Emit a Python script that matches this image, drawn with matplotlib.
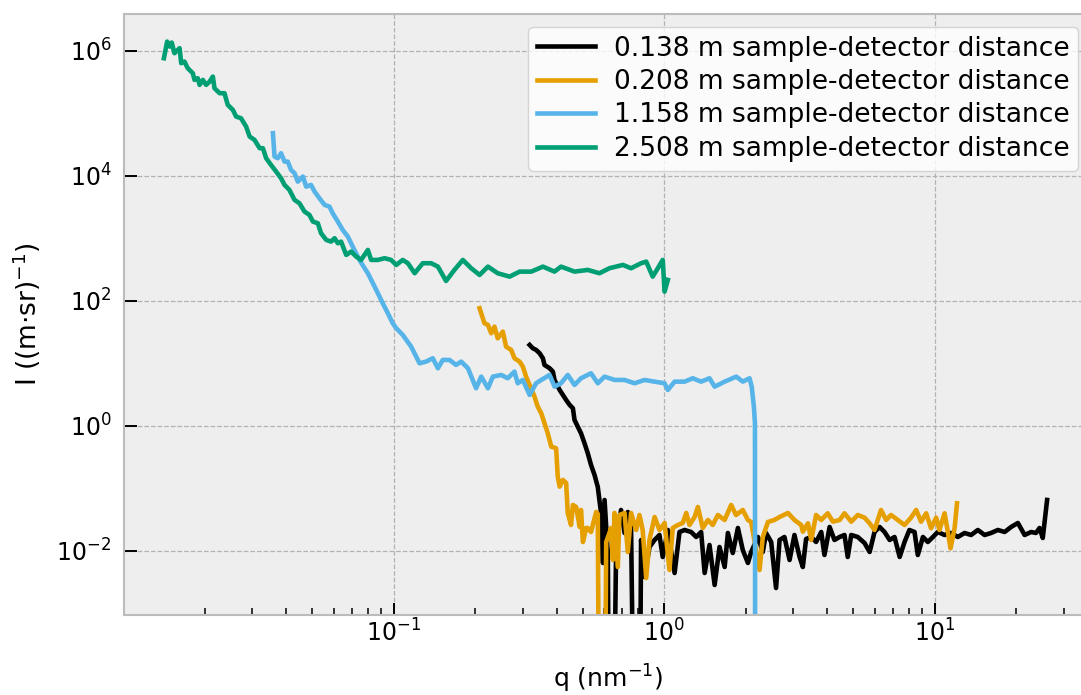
import numpy as np
import matplotlib
matplotlib.use("Agg")
import matplotlib.pyplot as plt
from matplotlib.ticker import FixedLocator, NullLocator, LogLocator

# values, stored as log10(q) and log10(I)
# a log10(I) of -6 marks points that fall below the axis (zero / negative intensity)
labels = ["0.138 m sample-detector distance", "0.208 m sample-detector distance",
          "1.158 m sample-detector distance", "2.508 m sample-detector distance"]
colors = ["#000000", "#E69F00", "#56B4E9", "#009E73"]

black_logq = [-0.498, -0.486, -0.474, -0.461, -0.449, -0.443, -0.424, -0.412, -0.406, -0.387,
              -0.375, -0.363, -0.350, -0.338, -0.332, -0.320, -0.308, -0.295, -0.283, -0.271,
              -0.258, -0.246, -0.240, -0.234, -0.227, -0.221, -0.209, -0.203, -0.190, -0.178,
              -0.160, -0.147, -0.135, -0.123, -0.110, -0.092, -0.086, -0.073, -0.055, -0.036,
              -0.018, -0.006, 0.013, 0.038, 0.056, 0.075, 0.099, 0.118, 0.136, 0.149,
              0.167, 0.186, 0.204, 0.223, 0.235, 0.253, 0.272, 0.290, 0.309, 0.321,
              0.346, 0.364, 0.376, 0.395, 0.413, 0.426, 0.444, 0.463, 0.481, 0.500,
              0.512, 0.524, 0.543, 0.561, 0.580, 0.592, 0.611, 0.629, 0.648, 0.666,
              0.678, 0.691, 0.715, 0.740, 0.759, 0.777, 0.796, 0.814, 0.833, 0.851,
              0.870, 0.888, 0.906, 0.925, 0.937, 0.956, 0.974, 0.993, 1.011, 1.036,
              1.060, 1.085, 1.110, 1.134, 1.159, 1.184, 1.208, 1.233, 1.258, 1.282,
              1.307, 1.332, 1.356, 1.374, 1.387, 1.399, 1.415]
black_logI = [1.296, 1.243, 1.216, 1.163, 1.083, 0.976, 0.923, 0.869, 0.736, 0.576,
              0.496, 0.416, 0.336, 0.283, 0.096, -0.011, -0.117, -0.277, -0.437, -0.624,
              -0.784, -0.976, -1.184, -1.392, -2.192, -1.184, -2.032, -6, -6, -1.872,
              -1.344, -1.712, -1.376, -1.632, -6, -6, -1.824, -2.416, -1.936, -1.824,
              -1.744, -2.096, -1.664, -2.352, -1.696, -1.664, -1.696, -1.776, -1.696, -2.352,
              -1.904, -2.544, -1.936, -2.256, -1.712, -2.032, -1.632, -1.984, -2.192, -2.016,
              -1.776, -2.016, -1.712, -1.856, -2.592, -1.824, -1.776, -2.144, -1.744, -2.096,
              -2.256, -1.808, -1.776, -1.856, -1.696, -2.064, -1.616, -1.824, -1.776, -1.744,
              -2.096, -1.744, -1.776, -1.872, -2.016, -1.696, -1.616, -1.696, -1.824, -1.776,
              -2.096, -1.856, -1.664, -1.696, -2.064, -1.776, -1.856, -1.776, -1.696, -1.744,
              -1.712, -1.776, -1.712, -1.744, -1.664, -1.744, -1.712, -1.664, -1.696, -1.616,
              -1.552, -1.744, -1.696, -1.712, -1.632, -1.792, -1.184]

orange_logq = [-0.683, -0.665, -0.652, -0.640, -0.628, -0.616, -0.597, -0.585, -0.566, -0.554,
               -0.535, -0.523, -0.511, -0.498, -0.480, -0.468, -0.455, -0.443, -0.431, -0.418,
               -0.400, -0.394, -0.387, -0.375, -0.363, -0.357, -0.345, -0.338, -0.326, -0.313,
               -0.308, -0.301, -0.289, -0.283, -0.271, -0.252, -0.246, -0.240, -0.221, -0.215,
               -0.203, -0.197, -0.190, -0.184, -0.172, -0.166, -0.147, -0.135, -0.123, -0.104,
               -0.092, -0.080, -0.067, -0.055, -0.036, -0.018, 0.001, 0.019, 0.031, 0.050,
               0.068, 0.081, 0.093, 0.112, 0.124, 0.142, 0.161, 0.179, 0.198, 0.223,
               0.247, 0.265, 0.290, 0.309, 0.321, 0.352, 0.364, 0.383, 0.407, 0.426,
               0.457, 0.481, 0.506, 0.512, 0.531, 0.543, 0.561, 0.580, 0.604, 0.623,
               0.648, 0.666, 0.691, 0.715, 0.740, 0.759, 0.777, 0.801, 0.820, 0.838,
               0.863, 0.888, 0.912, 0.931, 0.949, 0.968, 0.986, 1.005, 1.017, 1.036,
               1.048, 1.058, 1.073, 1.082]
orange_logI = [1.883, 1.643, 1.616, 1.483, 1.589, 1.403, 1.509, 1.269, 1.216, 1.083,
               1.029, 0.949, 0.789, 0.656, 0.469, 0.309, 0.203, 0.043, -0.117, -0.331,
               -0.357, -0.811, -0.971, -0.864, -0.912, -1.392, -1.584, -1.264, -1.296, -1.616,
               -1.344, -1.856, -1.632, -1.632, -1.696, -1.376, -1.408, -6, -6, -1.856,
               -1.712, -1.632, -2.144, -1.392, -2.256, -1.424, -1.392, -2.016, -1.392, -1.664,
               -1.424, -1.664, -2.432, -1.824, -1.456, -1.664, -1.552, -2.304, -1.632, -1.584,
               -1.552, -1.392, -1.584, -1.456, -1.296, -1.632, -1.504, -1.584, -1.424, -1.504,
               -1.264, -1.424, -1.344, -1.504, -1.536, -2.304, -1.776, -1.536, -1.504, -1.456,
               -1.392, -1.504, -1.584, -1.691, -1.557, -1.824, -1.424, -1.504, -1.397, -1.531,
               -1.504, -1.397, -1.531, -1.424, -1.467, -1.557, -1.664, -1.344, -1.504, -1.424,
               -1.504, -1.584, -1.467, -1.344, -1.531, -1.397, -1.637, -1.467, -1.664, -1.397,
               -1.691, -1.957, -1.637, -1.237]

blue_logq = [-1.447, -1.441, -1.429, -1.417, -1.404, -1.392, -1.380, -1.367, -1.355, -1.336,
             -1.324, -1.306, -1.293, -1.275, -1.256, -1.238, -1.226, -1.207, -1.189, -1.170,
             -1.152, -1.127, -1.108, -1.096, -1.065, -1.041, -1.022, -1.004, -0.991, -0.967,
             -0.936, -0.905, -0.881, -0.856, -0.837, -0.819, -0.794, -0.770, -0.751, -0.726,
             -0.696, -0.677, -0.652, -0.634, -0.603, -0.579, -0.554, -0.542, -0.523, -0.498,
             -0.474, -0.455, -0.424, -0.406, -0.382, -0.357, -0.332, -0.308, -0.271, -0.246,
             -0.221, -0.184, -0.147, -0.110, -0.073, -0.036, 0.001, 0.013, 0.038, 0.075,
             0.105, 0.136, 0.167, 0.186, 0.223, 0.266, 0.290, 0.315, 0.323, 0.331,
             0.335, 0.336]
blue_logI = [4.683, 4.309, 4.283, 4.363, 4.229, 4.229, 4.096, 4.043, 3.909, 3.989,
             3.829, 3.856, 3.749, 3.643, 3.536, 3.509, 3.403, 3.269, 3.136, 3.029,
             2.869, 2.656, 2.523, 2.443, 2.176, 1.963, 1.803, 1.643, 1.563, 1.456,
             1.269, 1.003, 1.029, 1.083, 0.923, 1.056, 1.056, 0.976, 1.029, 0.923,
             0.603, 0.789, 0.603, 0.789, 0.816, 0.763, 0.869, 0.683, 0.736, 0.496,
             0.683, 0.736, 0.816, 0.629, 0.683, 0.816, 0.656, 0.763, 0.843, 0.683,
             0.789, 0.736, 0.736, 0.683, 0.736, 0.709, 0.683, 0.576, 0.709, 0.709,
             0.763, 0.709, 0.763, 0.629, 0.709, 0.789, 0.709, 0.763, 0.629, 0.309,
             0.048, -6]

green_logq = [-1.850, -1.838, -1.828, -1.821, -1.811, -1.792, -1.786, -1.774, -1.762, -1.743,
              -1.737, -1.725, -1.718, -1.706, -1.694, -1.681, -1.669, -1.663, -1.644, -1.626,
              -1.614, -1.595, -1.583, -1.565, -1.546, -1.533, -1.515, -1.496, -1.484, -1.472,
              -1.454, -1.435, -1.417, -1.404, -1.386, -1.367, -1.349, -1.330, -1.312, -1.299,
              -1.281, -1.269, -1.250, -1.232, -1.219, -1.207, -1.195, -1.176, -1.158, -1.139,
              -1.121, -1.096, -1.084, -1.059, -1.034, -1.010, -0.991, -0.967, -0.948, -0.923,
              -0.893, -0.862, -0.837, -0.807, -0.776, -0.745, -0.714, -0.683, -0.652, -0.616,
              -0.572, -0.535, -0.492, -0.449, -0.406, -0.382, -0.332, -0.283, -0.240, -0.203,
              -0.153, -0.123, -0.086, -0.067, -0.043, -0.024, -0.006, 0.001, 0.013]
green_logI = [5.883, 6.149, 6.069, 6.133, 5.963, 6.043, 5.803, 5.829, 5.723, 5.643,
              5.536, 5.563, 5.456, 5.536, 5.456, 5.509, 5.589, 5.403, 5.323, 5.323,
              5.136, 5.056, 4.949, 4.923, 4.789, 4.629, 4.576, 4.443, 4.443, 4.283,
              4.176, 4.069, 3.963, 3.856, 3.776, 3.616, 3.563, 3.429, 3.376, 3.269,
              3.243, 3.083, 2.976, 2.949, 3.003, 2.923, 2.949, 2.736, 2.789, 2.709,
              2.656, 2.816, 2.656, 2.656, 2.683, 2.656, 2.576, 2.656, 2.603, 2.443,
              2.603, 2.603, 2.549, 2.320, 2.496, 2.656, 2.523, 2.416, 2.549, 2.443,
              2.389, 2.469, 2.469, 2.549, 2.469, 2.549, 2.469, 2.496, 2.443, 2.523,
              2.576, 2.523, 2.603, 2.629, 2.389, 2.523, 2.656, 2.149, 2.336]

series = [(black_logq, black_logI), (orange_logq, orange_logI),
          (blue_logq, blue_logI), (green_logq, green_logI)]

plt.rcParams['axes.unicode_minus'] = False

fig = plt.figure(figsize=(10.81, 6.95), dpi=100)
ax = fig.add_axes([124 / 1081, 80 / 695, 968 / 1081, 601 / 695])
ax.set_facecolor('#eeeeee')

for (lq, li), c, lab in zip(series, colors, labels):
    ax.plot(np.power(10.0, lq), np.power(10.0, li), color=c, lw=3.3, label=lab)

ax.set_xscale('log')
ax.set_yscale('log')
ax.set_xlim(10 ** -1.9975, 10 ** 1.581)
ax.set_ylim(10 ** -3.024, 10 ** 6.59)

ax.yaxis.set_major_locator(FixedLocator([1e-2, 1, 1e2, 1e4, 1e6]))
ax.yaxis.set_minor_locator(NullLocator())
ax.xaxis.set_minor_locator(LogLocator(base=10, subs=np.arange(2, 10)))

ax.grid(True, which='major', color='#b2b2b2', ls='--', lw=0.9)
ax.set_axisbelow(True)
for s in ax.spines.values():
    s.set_color('#bcbcbc')
    s.set_linewidth(1.5)

ax.tick_params(which='both', direction='in', labelsize=17, color='black')
ax.tick_params(which='major', length=9, width=1.4)
ax.tick_params(which='minor', length=5, width=1.1)
ax.tick_params(axis='y', pad=9)

ax.set_xlabel('q (nm$^{\u22121}$)', fontsize=18, labelpad=11)
ax.set_ylabel('I ((m\u00b7sr)$^{\u22121}$)', fontsize=19, labelpad=10)

ax.legend(loc='upper right', bbox_to_anchor=(1078 / 1081, 1 - 27 / 695),
          bbox_transform=fig.transFigure, borderaxespad=0, fontsize=19,
          labelspacing=0.28, borderpad=0.33, handlelength=2.2, handletextpad=0.7,
          edgecolor='#cccccc', fancybox=True)

fig.savefig('out.png', dpi=100)
